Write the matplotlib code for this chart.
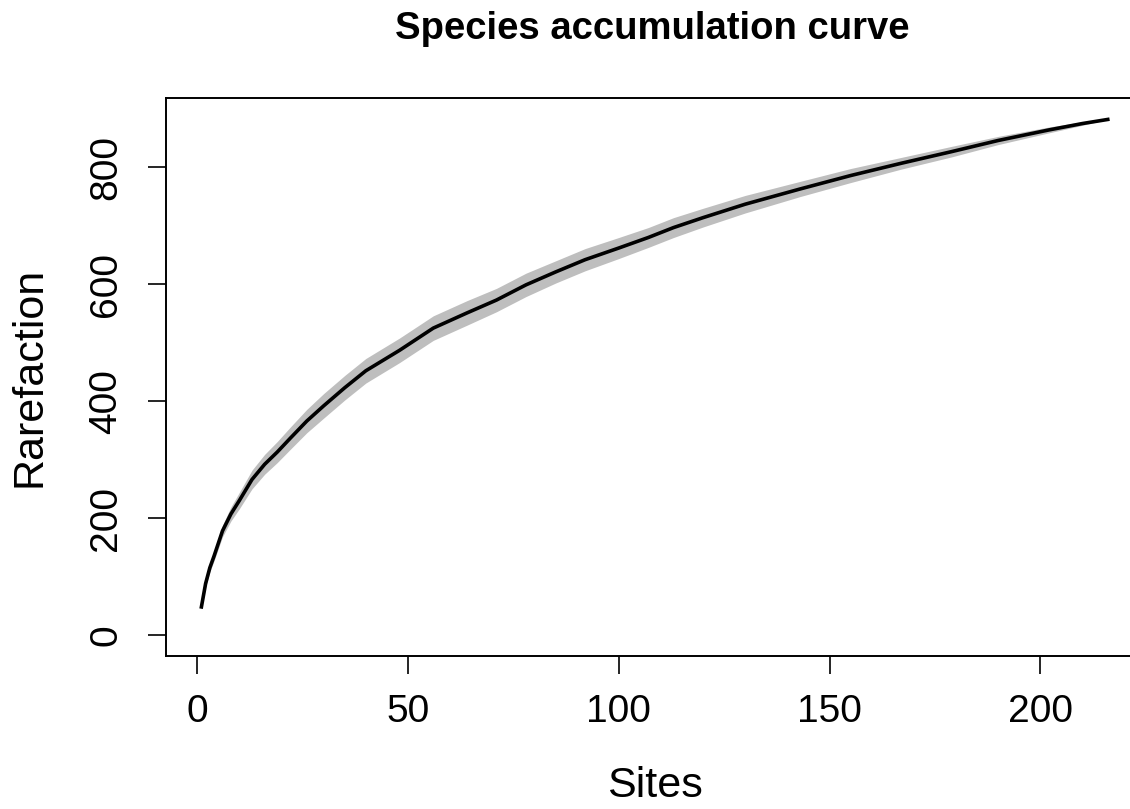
import numpy as np
import matplotlib
matplotlib.use("Agg")
import matplotlib.pyplot as plt

plt.rcParams['font.family'] = ['Liberation Sans', 'DejaVu Sans']

# species accumulation
sites = [1, 2, 3, 4, 6, 8, 10, 13, 16, 19, 22, 26, 30, 35, 40, 48, 56, 64, 71,
         78, 85, 92, 100, 107, 113, 120, 130, 143, 155, 167, 179, 190, 202, 210, 216]
richness = [48, 88, 115, 135, 178, 207, 230, 266, 292, 313, 336, 366, 392, 423, 452,
            487, 525, 551, 573, 599, 621, 642, 662, 680, 697, 714, 737, 763, 786,
            807, 827, 846, 864, 875, 882]
sd = [4, 6, 7, 8, 10, 12, 14, 16, 17, 18, 19, 20, 21, 21, 21, 21, 21, 21, 20,
      20, 19, 19, 18, 17, 17, 16, 15, 13, 12, 10, 9, 7, 5, 3, 0]

x_ticks = [0, 50, 100, 150, 200]
y_ticks = [0, 200, 400, 600, 800]

sites = np.array(sites)
richness = np.array(richness)
sd = np.array(sd)

fig = plt.figure(figsize=(11.3, 8.09), dpi=100)
ax = fig.add_axes([0.1469, 0.1891, 0.8655, 0.6897])

ax.fill_between(sites, richness - sd, richness + sd, color='#BEBEBE', lw=0)
ax.plot(sites, richness, color='black', lw=2.6)

ax.set_xlim(-7.4, 224.6)
ax.set_ylim(-36, 918.6)
ax.set_xticks(x_ticks)
ax.set_yticks(y_ticks)

for s in ax.spines.values():
    s.set_linewidth(1.4)
ax.spines['right'].set_visible(False)  # falls outside the picture in the original

ax.tick_params(axis='both', direction='out', length=13, width=1.2, labelsize=28)
ax.tick_params(axis='x', pad=14)
ax.tick_params(axis='y', pad=17, labelrotation=90)
for lab in ax.get_yticklabels():
    lab.set_va('center')

ax.set_xlabel('Sites', fontsize=31, va='center')
ax.xaxis.set_label_coords(0.5, -0.233)
ax.set_ylabel('Rarefaction', fontsize=31, va='center')
ax.yaxis.set_label_coords(-0.140, 0.5)

fig.text(0.577, 1 - 29 / 809, 'Species accumulation curve', fontsize=27.5,
         fontweight='bold', ha='center', va='center')

fig.savefig('out.png', dpi=100)
